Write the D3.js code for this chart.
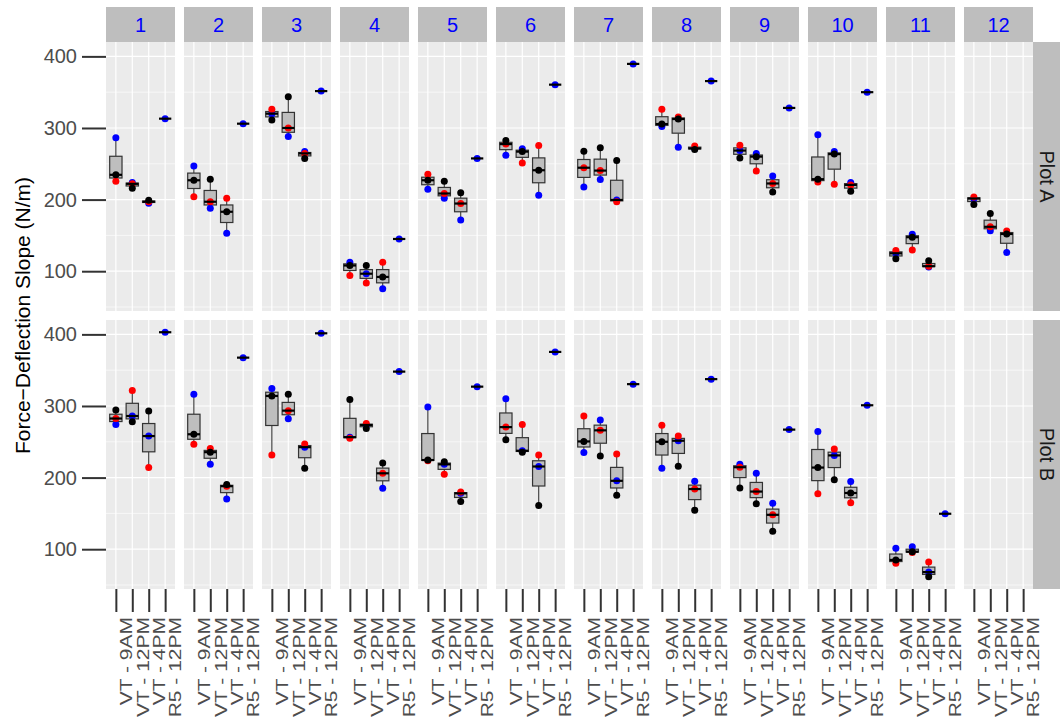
<!DOCTYPE html>
<html>
<head>
<meta charset="utf-8">
<script src="https://cdn.jsdelivr.net/npm/d3@7"></script>
<style>
  body { margin: 0; background: #ffffff; }
  svg { display: block; font-family: "Liberation Sans", Arial, Helvetica, sans-serif; }
</style>
</head>
<body>
<svg id="chart" width="1060" height="722"></svg>
<script>
// ---- categories ----
const facets = ["1", "2", "3", "4", "5", "6", "7", "8", "9", "10", "11", "12"];
const times = ["VT - 9AM", "VT - 12PM", "VT - 4PM", "R5 - 12PM"];
const panels = ["Plot A", "Plot B"];
const yTicks = [100, 200, 300, 400];
const yMinorTicks = [50, 150, 250, 350];
const yTitle = "Force\u2212Deflection Slope (N/m)";

// ---- replicate values, one row per facet: [VT - 9AM, VT - 12PM, VT - 4PM] ----
const plotA_black = [
  [234.6, 216, 199], [227, 228.5, 183], [311, 343.5, 257.5], [108, 108, 92],
  [227, 225.5, 209.5], [282.5, 267, 241], [267.5, 272.5, 254.5], [305.5, 312.5, 270],
  [258, 260, 210.5], [228.5, 263.5, 211.5], [117.5, 147.5, 114.5], [193, 180.5, 152]
];
const plotA_red = [
  [225.7, 222, 197], [204, 197, 202], [326, 300, 264.5], [94, 83.5, 112.5],
  [235.5, 208.5, 194.5], [277.5, 251, 275.5], [244.5, 240.5, 197], [326, 315.5, 275],
  [276, 240, 222.5], [224.5, 221.5, 220.5], [129, 129.5, 107], [203.5, 162, 156]
];
const plotA_blue = [
  [286.4, 224, 195], [247, 188, 153], [320, 288, 267], [112.5, 96.5, 75.5],
  [214.5, 202, 171.5], [262, 271, 206], [217.5, 228, 199.5], [302, 273, 271.5],
  [268.5, 264.5, 233], [290.5, 267, 224], [125, 151.5, 106], [201.5, 156.5, 126]
];
const plotA_R5 = [313, 306, 351.5, 145, 257.5, 360.5, 389.5, 365.5, 328, 350, null, null];

const plotB_black = [
  [294.5, 278, 293], [260.5, 235.5, 190.5], [314, 316.5, 213], [309, 268.5, 220.5],
  [224.5, 222, 166.5], [253, 235.5, 161], [250.5, 230, 175.5], [250, 216, 154.5],
  [185.5, 163.5, 125], [214, 197, 178.5], [85, 96.5, 61.5], [null, null, null]
];
const plotB_red = [
  [282.5, 321.5, 214], [246.5, 240.5, 188], [231.5, 293.5, 247], [255, 275.5, 206],
  [223.5, 204.5, 180], [270.5, 274, 231.5], [286, 266, 233], [273, 258, 184],
  [214.5, 180.5, 148], [177.5, 240, 165], [80.5, 95.5, 82], [null, null, null]
];
const plotB_blue = [
  [274, 286, 258], [316.5, 218.5, 170], [324.5, 282, 242.5], [256.5, 273.5, 185],
  [298.5, 218.5, 178], [310, 237.5, 215.5], [235, 280.5, 195.5], [213, 251.5, 195],
  [218.5, 206, 164], [264.5, 231, 194.5], [101.5, 103.5, 68], [null, null, null]
];
const plotB_R5 = [403, 367.5, 401.5, 348, 327, 375.5, 330.5, 337.5, 267, 301, 149.5, null];

const replicateColors = { blue: "#0000FF", red: "#FF0000", black: "#000000" };

// ---- layout ----
const W = 1060, H = 722;
const left = 106, panelW = 69, colStep = 78;
const stripTop = 7, panelTop = 42, panelH = 269, rowGap = 9;
const rightStripX = 1033;

const svg = d3.select("#chart");
svg.append("rect").attr("width", W).attr("height", H).attr("fill", "#ffffff");

const panelData = [
  { name: panels[0], black: plotA_black, red: plotA_red, blue: plotA_blue, r5: plotA_R5 },
  { name: panels[1], black: plotB_black, red: plotB_red, blue: plotB_blue, r5: plotB_R5 }
];

// shared y scale with a 5% expansion of the data range
const allValues = [];
panelData.forEach(p => {
  [p.black, p.red, p.blue].forEach(arr => arr.forEach(row => row.forEach(v => { if (v != null) allValues.push(v); })));
  p.r5.forEach(v => { if (v != null) allValues.push(v); });
});
const [lo, hi] = d3.extent(allValues);
const pad = (hi - lo) * 0.05;
const y = d3.scaleLinear().domain([lo - pad, hi + pad]).range([panelH, 0]);
const x = d3.scalePoint().domain(times).range([0, panelW]).padding(0.6);
const boxW = x.step() * 0.75;

const rowTop = r => panelTop + r * (panelH + rowGap);

// ---- top strips ----
facets.forEach((f, i) => {
  const g = svg.append("g").attr("transform", `translate(${left + i * colStep},${stripTop})`);
  g.append("rect").attr("width", panelW).attr("height", panelTop - stripTop).attr("fill", "#BEBEBE");
  g.append("text").attr("x", panelW / 2).attr("y", (panelTop - stripTop) / 2)
    .attr("text-anchor", "middle").attr("dominant-baseline", "central")
    .attr("font-size", 20).attr("fill", "#0000FF").text(f);
});

// ---- panels ----
panelData.forEach((p, r) => {
  // right strip
  svg.append("rect").attr("x", rightStripX).attr("y", rowTop(r))
    .attr("width", W - rightStripX).attr("height", panelH).attr("fill", "#BEBEBE");
  svg.append("text")
    .attr("transform", `translate(${rightStripX + 14},${rowTop(r) + panelH / 2}) rotate(90)`)
    .attr("text-anchor", "middle").attr("dominant-baseline", "central")
    .attr("font-size", 20).attr("fill", "#1A1A1A").text(p.name);

  facets.forEach((f, i) => {
    const g = svg.append("g").attr("transform", `translate(${left + i * colStep},${rowTop(r)})`);
    g.append("rect").attr("width", panelW).attr("height", panelH).attr("fill", "#EBEBEB");

    g.selectAll("line.minor").data(yMinorTicks).join("line").attr("class", "minor")
      .attr("x1", 0).attr("x2", panelW).attr("y1", d => y(d)).attr("y2", d => y(d))
      .attr("stroke", "#ffffff").attr("stroke-width", 0.6);
    g.selectAll("line.majorY").data(yTicks).join("line").attr("class", "majorY")
      .attr("x1", 0).attr("x2", panelW).attr("y1", d => y(d)).attr("y2", d => y(d))
      .attr("stroke", "#ffffff").attr("stroke-width", 1.2);
    g.selectAll("line.majorX").data(times).join("line").attr("class", "majorX")
      .attr("x1", d => x(d)).attr("x2", d => x(d)).attr("y1", 0).attr("y2", panelH)
      .attr("stroke", "#ffffff").attr("stroke-width", 1.2);

    // boxplots for the three VT times, plus the single R5 reading
    const groups = [];
    for (let c = 0; c < 3; c++) {
      const pts = [
        { col: "blue", v: p.blue[i][c] },
        { col: "red", v: p.red[i][c] },
        { col: "black", v: p.black[i][c] }
      ].filter(d => d.v != null);
      if (pts.length) groups.push({ t: times[c], pts });
    }
    if (p.r5[i] != null) groups.push({ t: times[3], pts: [{ col: "blue", v: p.r5[i] }] });

    groups.forEach(gr => {
      const vals = gr.pts.map(d => d.v).sort(d3.ascending);
      const q1 = d3.quantile(vals, 0.25), med = d3.quantile(vals, 0.5), q3 = d3.quantile(vals, 0.75);
      const cx = x(gr.t);
      const bg = g.append("g");
      bg.append("line").attr("x1", cx).attr("x2", cx).attr("y1", y(vals[0])).attr("y2", y(q1))
        .attr("stroke", "#333333").attr("stroke-width", 1.1);
      bg.append("line").attr("x1", cx).attr("x2", cx).attr("y1", y(q3)).attr("y2", y(vals[vals.length - 1]))
        .attr("stroke", "#333333").attr("stroke-width", 1.1);
      bg.append("rect").attr("x", cx - boxW / 2).attr("width", boxW)
        .attr("y", y(q3)).attr("height", Math.max(0, y(q1) - y(q3)))
        .attr("fill", "#BEBEBE").attr("stroke", "#333333").attr("stroke-width", 1.2);
      bg.selectAll("circle").data(gr.pts).join("circle")
        .attr("cx", cx).attr("cy", d => y(d.v)).attr("r", 3.5)
        .attr("fill", d => replicateColors[d.col]);
      bg.append("line").attr("x1", cx - boxW / 2).attr("x2", cx + boxW / 2)
        .attr("y1", y(med)).attr("y2", y(med))
        .attr("stroke", "#000000").attr("stroke-width", 2.2);
    });
  });

  // y axis for this row
  const ya = svg.append("g").attr("transform", `translate(${left},${rowTop(r)})`)
    .call(d3.axisLeft(y).tickValues(yTicks).tickSize(24).tickPadding(5));
  ya.select(".domain").remove();
  ya.selectAll(".tick line").attr("stroke", "#333333").attr("stroke-width", 2);
  ya.selectAll(".tick text").attr("font-size", 20).attr("fill", "#4D4D4D")
    .attr("font-family", "Liberation Sans, Arial, sans-serif");
});

// ---- x axes under the bottom row (labels run upward, narrow and tall) ----
const bottom = rowTop(1) + panelH;
facets.forEach((f, i) => {
  const xa = svg.append("g").attr("transform", `translate(${left + i * colStep},${bottom})`)
    .call(d3.axisBottom(x).tickSize(23).tickPadding(7));
  xa.select(".domain").remove();
  xa.selectAll(".tick line").attr("stroke", "#333333").attr("stroke-width", 2);
  xa.selectAll(".tick text")
    .attr("font-size", 21).attr("fill", "#4D4D4D")
    .attr("font-family", "Liberation Sans, Arial, sans-serif")
    .attr("transform", "rotate(-90) scale(1,0.78)")
    .attr("text-anchor", "end")
    .attr("x", -28).attr("y", 0).attr("dy", 20.2);
});

// ---- y axis title ----
svg.append("text")
  .attr("transform", `translate(22,${(panelTop + bottom) / 2}) rotate(-90)`)
  .attr("text-anchor", "middle").attr("dominant-baseline", "central")
  .attr("font-size", 21).attr("fill", "#000000").text(yTitle);
</script>
</body>
</html>
